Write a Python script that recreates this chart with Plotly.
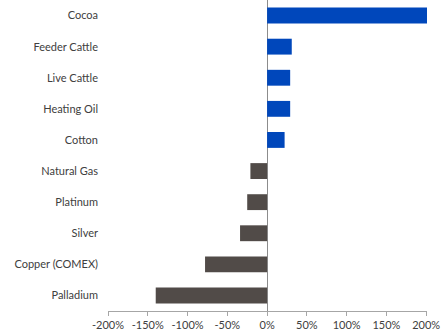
import plotly.graph_objects as go

commodities = ["Cocoa", "Feeder Cattle", "Live Cattle", "Heating Oil", "Cotton",
               "Natural Gas", "Platinum", "Silver", "Copper (COMEX)", "Palladium"]
changes = [201, 31, 29, 29, 22, -21, -25, -34, -78, -140]
tick_vals = [-200, -150, -100, -50, 0, 50, 100, 150, 200]
tick_text = ["-200%", "-150%", "-100%", "-50%", "0%", "50%", "100%", "150%", "200%"]

colors = ["#0047BB" if v >= 0 else "#514B48" for v in changes]

fig = go.Figure(go.Bar(
    x=changes, y=commodities, orientation="h",
    marker=dict(color=colors, line=dict(width=0)),
    width=0.51,
))

fig.update_layout(
    width=441, height=335,
    margin=dict(l=108, r=14, t=0, b=24, pad=0),
    paper_bgcolor="white", plot_bgcolor="white",
    font=dict(family="Lato, DejaVu Sans, sans-serif", size=11, color="#404040"),
    showlegend=False,
)
fig.update_xaxes(
    range=[-200, 201], tickvals=tick_vals, ticktext=tick_text,
    showgrid=False, zeroline=True, zerolinecolor="#8C8C8C", zerolinewidth=1,
    showline=True, linecolor="#A6A6A6", linewidth=1,
    ticks="outside", ticklen=4, tickcolor="#A6A6A6",
    tickfont=dict(size=11), automargin=False, ticklabeloverflow="allow",
)
fig.update_yaxes(
    categoryorder="array", categoryarray=commodities[::-1],
    showgrid=False, zeroline=False, showline=False, ticks="",
    ticklabelstandoff=9, range=[-0.5, 9.5],
    tickfont=dict(size=11), automargin=False,
)

fig.write_html(
    "out.html",
    config={"displayModeBar": False},
    post_script="document.body.style.margin='0';document.body.style.overflow='hidden';",
)
